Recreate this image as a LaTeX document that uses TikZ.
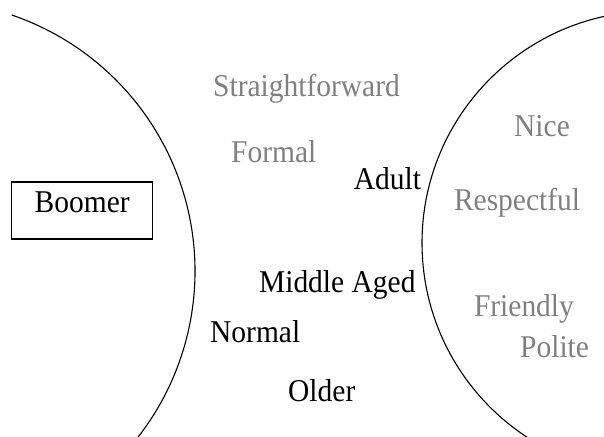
\documentclass[tikz,border=0pt]{standalone}
\usepackage{fontspec}
\setmainfont[FakeStretch=0.93]{Liberation Serif}
\definecolor{txtgray}{RGB}{128,128,128}
\begin{document}
\begin{tikzpicture}[x=1pt,y=-1pt,
  lbl/.style={anchor=base west, inner sep=0pt, font=\fontsize{31.7}{32}\selectfont},
  soft/.style={lbl, text=txtgray},
  hard/.style={lbl, text=black},
  arcline/.style={line width=1.1pt, draw=black}]
\useasboundingbox (0,0) rectangle (604,436);
\begin{scope}
\clip (0,0) rectangle (604,436);
\coordinate (lstart) at (11.7,15);
\draw[arcline] (lstart) arc[start angle=71.2, end angle=-40, radius=270.5pt];
\draw[arcline] (654,243) circle[radius=232pt];
\end{scope}
\node[draw, line width=1.4pt, minimum width=141pt, minimum height=57pt, inner sep=0pt,
  font=\fontsize{31.7}{32}\selectfont, text height=21pt, text depth=17.6pt] (boomer) at (82.2,210.3) {Boomer};
\node[soft] (straight) at (213,96.5) {Straightforward};
\node[soft] (formal) at (231,162) {Formal};
\node[hard] (adult) at (353.6,189) {Adult};
\node[soft] (nice) at (514,136.7) {Nice};
\node[soft] (respectful) at (453.8,210) {Respectful};
\node[hard] (middle) at (258.9,292.7) {Middle Aged};
\node[soft] (friendly) at (473.8,316.7) {Friendly};
\node[hard] (normal) at (210,342.3) {Normal};
\node[soft] (polite) at (520,357.7) {Polite};
\node[hard] (older) at (288,401.7) {Older};
\end{tikzpicture}
\end{document}
